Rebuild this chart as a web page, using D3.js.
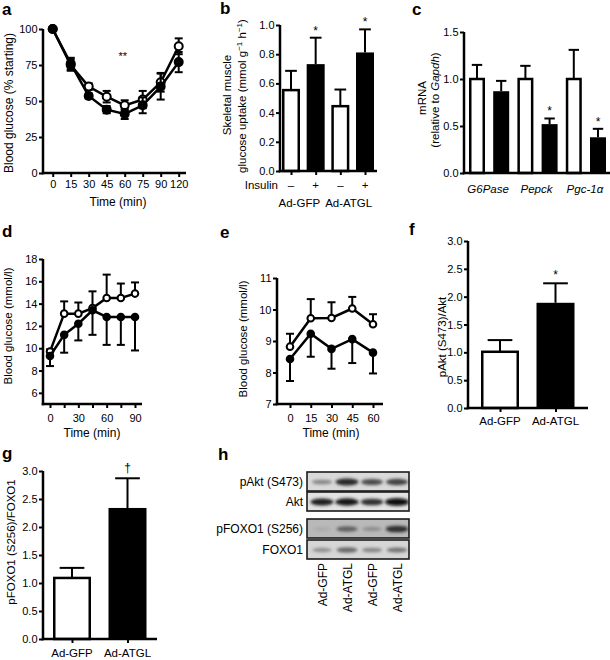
<!DOCTYPE html>
<html>
<head>
<meta charset="utf-8">
<script src="https://cdn.jsdelivr.net/npm/d3@7"></script>
<style>
  body { margin: 0; background: #fff; }
  svg { font-family: "Liberation Sans", Arial, Helvetica, sans-serif; }
</style>
</head>
<body>
<script>
// ---- data ----
// a: insulin tolerance, % of starting glucose
const timeA = [0, 15, 30, 45, 60, 75, 90, 120];
const aGfp = [100, 75, 60, 53, 47, 51, 63, 88];
const aGfpErr = [0, 4, 2.3, 4, 3.5, 6, 6.5, 5.5];
const aAtgl = [100, 76, 53.5, 44, 41, 47, 60, 77];
const aAtglErr = [0, 4, 1.8, 2.5, 3.5, 5.5, 9, 7];

// b: skeletal muscle glucose uptake
const bInsulin = ["–", "+", "–", "+"];
const bGroups = ["Ad-GFP", "Ad-ATGL"];
const bVal = [0.554, 0.732, 0.444, 0.812];
const bErr = [0.132, 0.181, 0.114, 0.158];
const bSig = ["", "*", "", "*"];

// c: liver mRNA
const cGenes = ["G6Pase", "Pepck", "Pgc-1α"];
const cGfp = [1.0, 1.0, 1.0];
const cGfpErr = [0.15, 0.14, 0.31];
const cAtgl = [0.87, 0.52, 0.38];
const cAtglErr = [0.11, 0.06, 0.09];
const cSig = ["", "*", "*"];

// d: glucose tolerance (mmol/l)
const timeD = [0, 15, 30, 45, 60, 75, 90];
const dGfp = [9.7, 13.1, 13.1, 13.6, 14.5, 14.5, 14.9];
const dGfpErr = [0.2, 1.1, 1.0, 1.5, 2.1, 1.3, 1.0];
const dAtgl = [9.3, 11.2, 12.2, 13.4, 12.8, 12.8, 12.8];
const dAtglErr = [0.9, 1.6, 1.5, 2.2, 2.5, 2.5, 3.0];

// e: pyruvate tolerance (mmol/l)
const timeE = [0, 15, 30, 45, 60];
const eGfp = [8.82, 9.72, 9.73, 10.03, 9.53];
const eGfpErr = [0.41, 0.61, 0.5, 0.37, 0.32];
const eAtgl = [8.43, 9.23, 8.75, 9.06, 8.63];
const eAtglErr = [0.7, 0.73, 0.63, 0.76, 0.66];

// f, g: western blot quantification
const groups = ["Ad-GFP", "Ad-ATGL"];
const fVal = [1.01, 1.89];
const fErr = [0.21, 0.35];
const gVal = [1.09, 2.34];
const gErr = [0.18, 0.53];

// h: blot rows and band darkness per lane
const blotRows = ["pAkt (S473)", "Akt", "pFOXO1 (S256)", "FOXO1"];
const blotLanes = ["Ad-GFP", "Ad-ATGL", "Ad-GFP", "Ad-ATGL"];
const blotBands = [
  [0.35, 0.85, 0.65, 0.7],
  [0.9, 0.95, 0.8, 1.0],
  [0.15, 0.55, 0.3, 0.8],
  [0.3, 0.5, 0.35, 0.45]
];
const blotBg = ["#d9d9d9", "#e2e2e2", "#b9b9b9", "#d6d6d6"];

// ---- drawing ----
const svg = d3.select("body").append("svg")
  .attr("width", 610).attr("height", 660);

const AX = 2.5;
const TICK_FS = 11;

let styleAxis = function(g) {
  g.select(".domain").remove();
  g.selectAll(".tick line").attr("stroke", "#000").attr("stroke-width", 2);
  g.selectAll(".tick text").attr("fill", "#000").attr("font-size", TICK_FS)
    .attr("font-family", "Liberation Sans, Arial, sans-serif");
};

let yAxis = function(x, y, values, fmt) {
  let g = svg.append("g").attr("transform", `translate(${x},0)`)
    .call(d3.axisLeft(y).tickValues(values).tickFormat(fmt).tickSize(4).tickPadding(1.5));
  styleAxis(g);
  svg.append("line")
    .attr("x1", x).attr("x2", x)
    .attr("y1", y.range()[0] + AX / 2).attr("y2", y.range()[1])
    .attr("stroke", "#000").attr("stroke-width", AX);
};

let xLine = function(x1, x2, yv) {
  svg.append("line")
    .attr("x1", x1 - AX / 2).attr("x2", x2)
    .attr("y1", yv).attr("y2", yv)
    .attr("stroke", "#000").attr("stroke-width", AX);
};

let xAxis = function(yv, x, values, fmt, pad) {
  let ax = d3.axisBottom(x).tickSize(4).tickPadding(pad);
  if (values) ax.tickValues(values);
  if (fmt) ax.tickFormat(fmt);
  let g = svg.append("g").attr("transform", `translate(0,${yv})`).call(ax);
  styleAxis(g);
  return g;
};

let label = function(txt, x, y, opts) {
  opts = opts || {};
  let t = svg.append("text").attr("x", x).attr("y", y)
    .attr("font-size", opts.size || 11.5)
    .attr("text-anchor", opts.anchor || "middle")
    .attr("fill", "#000")
    .text(txt);
  if (opts.weight) t.attr("font-weight", opts.weight);
  if (opts.italic) t.attr("font-style", "italic");
  return t;
};

let yLabel = function(txt, x, y, size) {
  return svg.append("text")
    .attr("transform", `translate(${x},${y}) rotate(-90)`)
    .attr("text-anchor", "middle")
    .attr("font-size", size || 11.5)
    .attr("fill", "#000")
    .text(txt);
};

let errBar = function(cx, y0, y1, cap) {
  svg.append("line").attr("x1", cx).attr("x2", cx).attr("y1", y0).attr("y2", y1)
    .attr("stroke", "#000").attr("stroke-width", 2);
  svg.append("line").attr("x1", cx - cap / 2).attr("x2", cx + cap / 2).attr("y1", y1).attr("y2", y1)
    .attr("stroke", "#000").attr("stroke-width", 2);
};

let lineSeries = function(xs, ys, errs, x, y, filled, dir, r) {
  xs.forEach(function(t, i) {
    if (!errs[i]) return;
    if (dir >= 0) errBar(x(t), y(ys[i]), y(ys[i] + errs[i]), 8);
    if (dir <= 0) errBar(x(t), y(ys[i]), y(ys[i] - errs[i]), 8);
  });
  svg.append("path")
    .datum(xs.map((t, i) => [t, ys[i]]))
    .attr("d", d3.line().x(d => x(d[0])).y(d => y(d[1])))
    .attr("fill", "none").attr("stroke", "#000").attr("stroke-width", 2.5);
  svg.append("g").selectAll("circle")
    .data(xs.map((t, i) => [t, ys[i]]))
    .enter().append("circle")
    .attr("cx", d => x(d[0])).attr("cy", d => y(d[1]))
    .attr("r", r)
    .attr("fill", filled ? "#000" : "#fff")
    .attr("stroke", "#000").attr("stroke-width", 2);
};

let bar = function(cx, w, y, v, e, filled) {
  let y0 = y(0), yv = y(v);
  errBar(cx, yv, y(v + e), w * 0.65);
  svg.append("rect")
    .attr("x", cx - w / 2 + (filled ? 0 : 1.25))
    .attr("y", yv)
    .attr("width", w - (filled ? 0 : 2.5))
    .attr("height", y0 - yv)
    .attr("fill", filled ? "#000" : "#fff")
    .attr("stroke", "#000").attr("stroke-width", filled ? 0 : 2.5);
};

// ---- panel a ----
label("a", 2, 15, {size: 17, weight: "bold", anchor: "start"});
const aX = d3.scalePoint().domain(timeA).range([52.7, 178.7]);
const aY = d3.scaleLinear().domain([0, 100]).range([173, 29]);
xAxis(173, aX, null, null, 3);
xLine(43, 186, 173);
yAxis(43, aY, [0, 25, 50, 75, 100], d3.format("d"));
lineSeries(timeA, aGfp, aGfpErr, aX, aY, false, 0, 4);
lineSeries(timeA, aAtgl, aAtglErr, aX, aY, true, 0, 4);
label("**", aX(60) - 2, 60, {size: 11});
label("Time (min)", 118, 206, {size: 12});
yLabel("Blood glucose (% starting)", 13, 103, 12);

// ---- panel b ----
label("b", 220, 14, {size: 17, weight: "bold", anchor: "start"});
const bX = d3.scalePoint().domain(d3.range(bVal.length)).range([291, 365]);
const bY = d3.scaleLinear().domain([0, 1]).range([171, 25]);
bVal.forEach((v, i) => bar(bX(i), 18, bY, v, bErr[i], i % 2 === 1));
xAxis(171, bX, null, () => "", 0);
xLine(280, 377, 171);
yAxis(280, bY, [0, 0.2, 0.4, 0.6, 0.8, 1.0], d3.format(".1f"));
bSig.forEach((s, i) => { if (s) label(s, bX(i), bY(bVal[i] + bErr[i]) - 3, {size: 12}); });
label("Insulin", 278, 189, {anchor: "end", size: 11.5});
bInsulin.forEach((s, i) => label(s, bX(i), 189, {size: 11.5}));
bGroups.forEach((s, i) => label(s, (bX(2 * i) + bX(2 * i + 1)) / 2 - 4, 207, {size: 11.5}));
yLabel("Skeletal muscle", 231, 95, 11.5);
svg.append("text")
  .attr("transform", "translate(246,96) rotate(-90)")
  .attr("text-anchor", "middle").attr("font-size", 11.5).attr("fill", "#000")
  .call(t => {
    t.append("tspan").text("glucose uptake (mmol g");
    t.append("tspan").attr("dy", -4).attr("font-size", 8).text("−1");
    t.append("tspan").attr("dy", 4).text(" h");
    t.append("tspan").attr("dy", -4).attr("font-size", 8).text("−1");
    t.append("tspan").attr("dy", 4).text(")");
  });

// ---- panel c ----
label("c", 412, 15, {size: 17, weight: "bold", anchor: "start"});
const cX = d3.scalePoint().domain(d3.range(6)).range([477, 598]);
const cY = d3.scaleLinear().domain([0, 1.5]).range([173, 32]);
cGenes.forEach(function(gname, i) {
  bar(cX(2 * i), 16, cY, cGfp[i], cGfpErr[i], false);
  bar(cX(2 * i + 1), 16, cY, cAtgl[i], cAtglErr[i], true);
  if (cSig[i]) label(cSig[i], cX(2 * i + 1), cY(cAtgl[i] + cAtglErr[i]) - 3, {size: 12});
  label(gname, (cX(2 * i) + cX(2 * i + 1)) / 2 - 1, 193, {size: 11.5, italic: true});
});
xLine(464, 610, 173);
yAxis(464, cY, [0, 0.5, 1.0, 1.5], d3.format(".1f"));
yLabel("mRNA", 426, 98, 11.5);
svg.append("text")
  .attr("transform", "translate(439,100) rotate(-90)")
  .attr("text-anchor", "middle").attr("font-size", 11.5).attr("fill", "#000")
  .call(t => {
    t.append("tspan").text("(relative to ");
    t.append("tspan").attr("font-style", "italic").text("Gapdh");
    t.append("tspan").text(")");
  });

// ---- panel d ----
label("d", 2, 237, {size: 17, weight: "bold", anchor: "start"});
const dX = d3.scaleLinear().domain([0, 90]).range([50, 135]);
const dY = d3.scaleLinear().domain([5, 18]).range([404, 259]);
xAxis(404, dX, d3.range(0, 91, 15), d => d % 30 === 0 ? d : "", 6);
xLine(43, 142, 404);
yAxis(43, dY, d3.range(6, 19, 2), d3.format("d"));
lineSeries(timeD, dGfp, dGfpErr, dX, dY, false, 1, 3.3);
lineSeries(timeD, dAtgl, dAtglErr, dX, dY, true, -1, 3.3);
label("Time (min)", 92, 437, {size: 12});
yLabel("Blood glucose (mmol/l)", 12, 326, 11.5);

// ---- panel e ----
label("e", 220, 238, {size: 17, weight: "bold", anchor: "start"});
const eX = d3.scaleLinear().domain([0, 60]).range([290, 373]);
const eY = d3.scaleLinear().domain([7, 11]).range([404, 278]);
xAxis(404, eX, timeE, d3.format("d"), 6);
xLine(277, 383, 404);
yAxis(277, eY, [7, 8, 9, 10, 11], d3.format("d"));
lineSeries(timeE, eGfp, eGfpErr, eX, eY, false, 1, 3.3);
lineSeries(timeE, eAtgl, eAtglErr, eX, eY, true, -1, 3.3);
label("Time (min)", 331, 437, {size: 12});
yLabel("Blood glucose (mmol/l)", 247, 339, 11.5);

// ---- panel f ----
label("f", 409, 235, {size: 17, weight: "bold", anchor: "start"});
const fX = d3.scalePoint().domain(groups).range([500, 555.5]);
const fY = d3.scaleLinear().domain([0, 3]).range([408, 241]);
groups.forEach((gname, i) => bar(fX(gname), 38, fY, fVal[i], fErr[i], i === 1));
xAxis(408, fX, null, () => "", 0);
xLine(468, 588, 408);
yAxis(468, fY, d3.range(0, 3.01, 0.5), d3.format(".1f"));
label("*", fX(groups[1]), fY(fVal[1] + fErr[1]) - 4, {size: 12});
groups.forEach(gname => label(gname, fX(gname), 425, {size: 11.5}));
yLabel("pAkt (S473)/Akt", 446, 337, 11.5);

// ---- panel g ----
label("g", 2, 459, {size: 17, weight: "bold", anchor: "start"});
const gX = d3.scalePoint().domain(groups).range([72, 127.5]);
const gY = d3.scaleLinear().domain([0, 3]).range([639, 471]);
groups.forEach((gname, i) => bar(gX(gname), 38, gY, gVal[i], gErr[i], i === 1));
xAxis(639, gX, null, () => "", 0);
xLine(43, 157, 639);
yAxis(43, gY, d3.range(0, 3.01, 0.5), d3.format(".1f"));
label("†", gX(groups[1]), gY(gVal[1] + gErr[1]) - 6, {size: 12});
groups.forEach(gname => label(gname, gX(gname), 657, {size: 11.5}));
yLabel("pFOXO1 (S256)/FOXO1", 15, 542, 11.5);

// ---- panel h: blots ----
label("h", 218, 460, {size: 17, weight: "bold", anchor: "start"});
const defs = svg.append("defs");
defs.append("filter").attr("id", "blur").attr("x", "-50%").attr("y", "-100%")
  .attr("width", "200%").attr("height", "300%")
  .append("feGaussianBlur").attr("stdDeviation", 1.6);
const laneX = d3.scalePoint().domain(d3.range(blotLanes.length)).range([322, 397]);
const rowTop = [472, 492, 519, 540];
const rowH = 19;
const bandColor = d3.interpolateRgb("#c8c8c8", "#080808");
blotRows.forEach(function(name, r) {
  defs.append("clipPath").attr("id", "clip" + r)
    .append("rect").attr("x", 307).attr("y", rowTop[r]).attr("width", 102).attr("height", rowH);
  svg.append("rect").attr("x", 307).attr("y", rowTop[r]).attr("width", 102).attr("height", rowH)
    .attr("fill", blotBg[r]);
  svg.append("g").attr("clip-path", `url(#clip${r})`)
    .selectAll("ellipse").data(blotBands[r]).enter().append("ellipse")
    .attr("cx", (d, i) => laneX(i))
    .attr("cy", rowTop[r] + rowH / 2 + 0.5)
    .attr("rx", d => 9 + d * 3)
    .attr("ry", d => 1.6 + d * 2.2)
    .attr("fill", d => bandColor(d))
    .attr("filter", "url(#blur)");
  svg.append("rect").attr("x", 307).attr("y", rowTop[r]).attr("width", 102).attr("height", rowH)
    .attr("fill", "none").attr("stroke", "#1a1a1a").attr("stroke-width", 1.6);
  label(name, 303, rowTop[r] + rowH / 2 + 4.5, {anchor: "end", size: 12});
});
blotLanes.forEach(function(name, i) {
  svg.append("text")
    .attr("transform", `translate(${laneX(i) + 4.5},563) rotate(-90)`)
    .attr("text-anchor", "end").attr("font-size", 12).attr("fill", "#000")
    .text(name);
});
</script>
</body>
</html>
